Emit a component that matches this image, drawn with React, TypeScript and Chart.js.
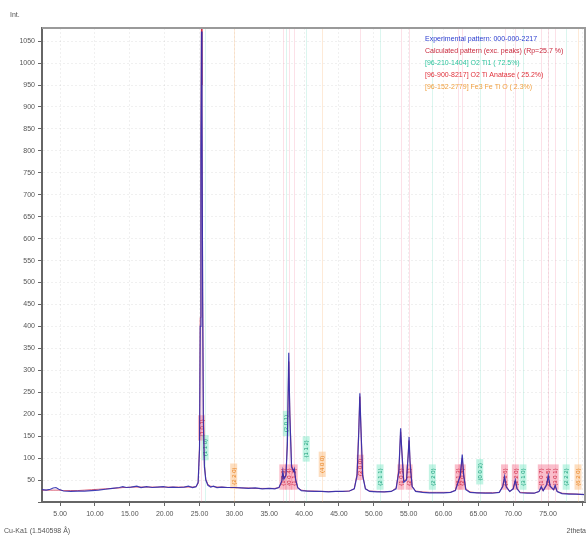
import React, { useEffect, useRef } from 'react';
import { Chart, registerables } from 'chart.js';
Chart.register(...registerables);

// 2theta positions (degrees)
const twoTheta = [
  2.4, 3.0, 3.6, 4.0, 4.4, 4.8, 5.5, 6.5, 7.5, 8.5, 9.5, 10.5, 11.5, 12.5, 13.5, 14.0, 14.5, 15.2, 16.0, 16.6,
  17.4, 18.2, 19.0, 19.8, 20.5, 21.2, 22.0, 22.8, 23.4, 24.0, 24.5, 24.8, 25.0, 25.1, 25.2, 25.28, 25.35, 25.45, 25.55, 25.7,
  25.9, 26.2, 26.6, 27.0, 27.5, 28.2, 29.0, 30.0, 31.0, 32.0, 33.0, 34.0, 35.0, 35.8, 36.4, 36.8, 36.95, 37.1, 37.4, 37.6,
  37.8, 37.95, 38.2, 38.5, 38.6, 38.8, 39.1, 39.6, 40.5, 41.5, 42.5, 43.5, 44.5, 45.5, 46.5, 47.2, 47.6, 47.85, 48.0, 48.15,
  48.4, 48.8, 49.4, 50.5, 51.5, 52.5, 53.2, 53.6, 53.85, 54.0, 54.3, 54.7, 54.95, 55.06, 55.2, 55.5, 56.0, 57.0, 58.0, 59.0,
  60.0, 61.0, 61.7, 62.1, 62.4, 62.69, 62.9, 63.2, 63.8, 64.8, 66.0, 67.0, 68.0, 68.5, 68.76, 69.0, 69.5, 70.0, 70.3, 70.55,
  71.0, 72.0, 73.0, 73.7, 74.03, 74.3, 74.8, 75.03, 75.3, 75.8, 76.02, 76.3, 77.0, 78.0, 79.0, 80.3,
];
// experimental counts
const expCounts = [
  28, 27, 29, 32, 33, 29, 25, 24, 25, 25, 26, 27, 29, 31, 33, 35, 33, 34, 36, 33,
  35, 33, 34, 35, 33, 34, 33, 34, 36, 33, 35, 45, 120, 400, 800, 1072, 900, 450, 180, 80,
  50, 38, 34, 36, 33, 34, 33, 33, 32, 31, 32, 30, 31, 30, 33, 48, 70, 52, 60, 130,
  340, 200, 80, 70, 75, 50, 32, 26, 25, 24, 24, 23, 24, 24, 25, 30, 60, 160, 248, 170,
  60, 30, 24, 23, 23, 24, 30, 70, 168, 120, 45, 50, 110, 148, 90, 35, 24, 22, 21, 21,
  21, 22, 26, 45, 60, 108, 60, 28, 22, 21, 20, 20, 22, 35, 58, 34, 24, 30, 50, 30,
  21, 20, 20, 24, 35, 26, 40, 60, 36, 28, 38, 24, 19, 18, 18, 17,
];
// calculated counts
const calcCounts = [
  27, 27, 27, 27, 27, 27, 26, 26, 26, 27, 28, 29, 30, 31, 32, 33, 33, 34, 34, 34,
  34, 34, 34, 34, 34, 34, 34, 34, 34, 34, 35, 42, 130, 420, 850, 1110, 950, 480, 200, 85,
  52, 40, 36, 35, 34, 34, 33, 33, 32, 32, 31, 31, 31, 31, 33, 45, 65, 55, 62, 140,
  320, 210, 85, 68, 72, 50, 33, 27, 25, 25, 24, 24, 24, 24, 25, 30, 65, 170, 240, 175,
  62, 30, 25, 24, 23, 24, 32, 75, 160, 125, 48, 52, 115, 140, 95, 36, 25, 23, 22, 22,
  22, 22, 27, 48, 58, 100, 62, 30, 23, 21, 21, 21, 22, 36, 55, 36, 24, 30, 48, 31,
  22, 21, 20, 24, 33, 25, 38, 55, 35, 27, 36, 24, 20, 19, 18, 17,
];

// phase reflections
const tealRefl = [25.8, 37.45, 40.3, 50.9, 58.4, 65.2, 71.4, 77.6];
const tealHkl = ['(1 1 0)', '(2 0 1)', '(1 1 2)', '(2 1 1)', '(2 2 0)', '(0 0 2)', '(3 1 0)', '(2 2 2)'];
const tealLabelAt = [95, 150, 92, 28, 28, 40, 28, 28];

const anataseRefl = [25.28, 36.95, 37.8, 38.58, 48.05, 53.89, 55.06, 62.12, 62.69, 68.76, 70.31, 74.03, 75.03, 76.02];
const anataseHkl = ['(1 0 1)', '(1 0 3)', '(0 0 4)', '(1 1 2)', '(2 0 0)', '(1 0 5)', '(2 1 1)', '(2 1 3)', '(2 0 4)', '(1 1 6)', '(2 2 0)', '(1 0 7)', '(2 1 5)', '(3 0 1)'];
const anataseLabelAt = [140, 28, 28, 28, 50, 28, 28, 28, 28, 28, 28, 28, 28, 28];

const ironRefl = [29.9, 42.6, 79.3];
const ironHkl = ['(2 2 0)', '(4 0 0)', '(6 2 0)'];
const ironLabelAt = [30, 57, 28];

const legendLines = [
  'Experimental pattern: 000-000-2217',
  'Calculated pattern (exc. peaks) (Rp=25.7 %)',
  '[96-210-1404] O2 Ti1 ( 72.5%)',
  '[96-900-8217] O2 Ti Anatase ( 25.2%)',
  '[96-152-2779] Fe3 Fe Ti O ( 2.3%)',
];

const FONT = '"Liberation Sans", Arial, sans-serif';

export default function App() {
  const ref = useRef<HTMLCanvasElement>(null);
  useEffect(() => {
    const canvas = ref.current;
    if (!canvas) return;
    const phases = [
      { refl: anataseRefl, hkl: anataseHkl, at: anataseLabelAt, line: 'rgba(240,120,150,0.22)', fill: 'rgba(245,110,140,0.45)', text: '#c81e3c' },
      { refl: tealRefl, hkl: tealHkl, at: tealLabelAt, line: 'rgba(90,215,180,0.22)', fill: 'rgba(120,230,195,0.45)', text: '#179c78' },
      { refl: ironRefl, hkl: ironHkl, at: ironLabelAt, line: 'rgba(250,180,110,0.28)', fill: 'rgba(252,190,130,0.50)', text: '#e8801e' },
    ];
    const legendColors = ['#2a3ccf', '#c8283c', '#2fc49e', '#e0303a', '#f0a040'];

    const decor = {
      id: 'decor',
      beforeDatasetsDraw(chart: any) {
        const { ctx, chartArea } = chart;
        const xs = chart.scales.x;
        const ys = chart.scales.y;
        ctx.save();
        ctx.beginPath();
        ctx.rect(chartArea.left, chartArea.top, chartArea.right - chartArea.left, chartArea.bottom - chartArea.top);
        ctx.clip();
        for (const p of phases) {
          for (let i = 0; i < p.refl.length; i++) {
            const x = Math.round(xs.getPixelForValue(p.refl[i])) + 0.5;
            ctx.strokeStyle = p.line;
            ctx.lineWidth = 1;
            ctx.beginPath();
            ctx.moveTo(x, chartArea.top);
            ctx.lineTo(x, chartArea.bottom);
            ctx.stroke();
          }
        }
        ctx.font = `6px ${FONT}`;
        for (const p of phases) {
          for (let i = 0; i < p.refl.length; i++) {
            const x = xs.getPixelForValue(p.refl[i]);
            const yb = ys.getPixelForValue(p.at[i]);
            const w = ctx.measureText(p.hkl[i]).width + 8;
            ctx.fillStyle = p.fill;
            ctx.fillRect(x - 3.5, yb - w, 7, w);
            ctx.save();
            ctx.translate(x, yb);
            ctx.rotate(-Math.PI / 2);
            ctx.fillStyle = p.text;
            ctx.textBaseline = 'middle';
            ctx.textAlign = 'left';
            ctx.fillText(p.hkl[i], 4, 0.5);
            ctx.restore();
          }
        }
        ctx.restore();
      },
      afterDraw(chart: any) {
        const { ctx, chartArea } = chart;
        ctx.save();
        ctx.strokeStyle = '#9a9a9a';
        ctx.lineWidth = 2;
        ctx.beginPath();
        ctx.moveTo(chartArea.left, chartArea.top);
        ctx.lineTo(chartArea.right, chartArea.top);
        ctx.lineTo(chartArea.right, chartArea.bottom);
        ctx.stroke();
        ctx.font = `7px ${FONT}`;
        ctx.textBaseline = 'middle';
        ctx.textAlign = 'left';
        legendLines.forEach((t, i) => {
          ctx.fillStyle = legendColors[i];
          ctx.fillText(t, 425, 39 + i * 12);
        });
        ctx.fillStyle = '#555';
        ctx.font = `7px ${FONT}`;
        ctx.fillText('Int.', 10, 15);
        ctx.fillText('Cu-Ka1 (1.540598 \u00c5)', 4, 531);
        ctx.textAlign = 'right';
        ctx.fillText('2theta', 586, 531);
        ctx.restore();
      },
    };

    const chart = new Chart(canvas, {
      type: 'line',
      data: {
        datasets: [
          {
            label: 'Experimental',
            data: twoTheta.map((t, i) => ({ x: t, y: expCounts[i] })),
            borderColor: 'rgba(45,45,175,0.9)',
            borderWidth: 1.2,
            pointRadius: 0,
            tension: 0,
            fill: false,
          },
          {
            label: 'Calculated',
            data: twoTheta.map((t, i) => ({ x: t, y: calcCounts[i] })),
            borderColor: 'rgba(205,40,70,0.75)',
            borderWidth: 1,
            pointRadius: 0,
            tension: 0,
            fill: false,
          },
        ],
      },
      options: {
        responsive: false,
        animation: false,
        devicePixelRatio: 1,
        layout: { padding: { top: 28, right: 2, left: 0, bottom: 0 } },
        plugins: { legend: { display: false }, tooltip: { enabled: false } },
        scales: {
          x: {
            type: 'linear',
            min: 2.4,
            max: 80.3,
            afterFit: (s: any) => { s.height = 34; },
            ticks: {
              stepSize: 5,
              includeBounds: false,
              autoSkip: false,
              maxRotation: 0,
              padding: 4,
              color: '#555',
              font: { size: 7, family: FONT },
              callback: (v: any) => (Number(v) >= 80 ? '' : Number(v).toFixed(2)),
            },
            grid: { color: 'rgba(0,0,0,0.06)', tickLength: 4, tickColor: '#666' },
            border: { color: '#666', width: 2, dash: [2, 2] },
          },
          y: {
            type: 'linear',
            min: 0,
            max: 1080,
            afterFit: (s: any) => { s.width = 42; },
            ticks: {
              stepSize: 50,
              includeBounds: false,
              autoSkip: false,
              padding: 3,
              color: '#555',
              font: { size: 7, family: FONT },
              callback: (v: any) => (v === 0 ? '' : String(v)),
            },
            grid: { color: 'rgba(0,0,0,0.06)', tickLength: 4, tickColor: '#666' },
            border: { color: '#666', width: 2, dash: [2, 2] },
          },
        },
      },
      plugins: [decor],
    });
    return () => chart.destroy();
  }, []);
  return (
    <div style={{ position: 'absolute', left: 0, top: 0, width: 587, height: 536, background: '#fff' }}>
      <canvas ref={ref} width={587} height={536} style={{ display: 'block' }} />
    </div>
  );
}
